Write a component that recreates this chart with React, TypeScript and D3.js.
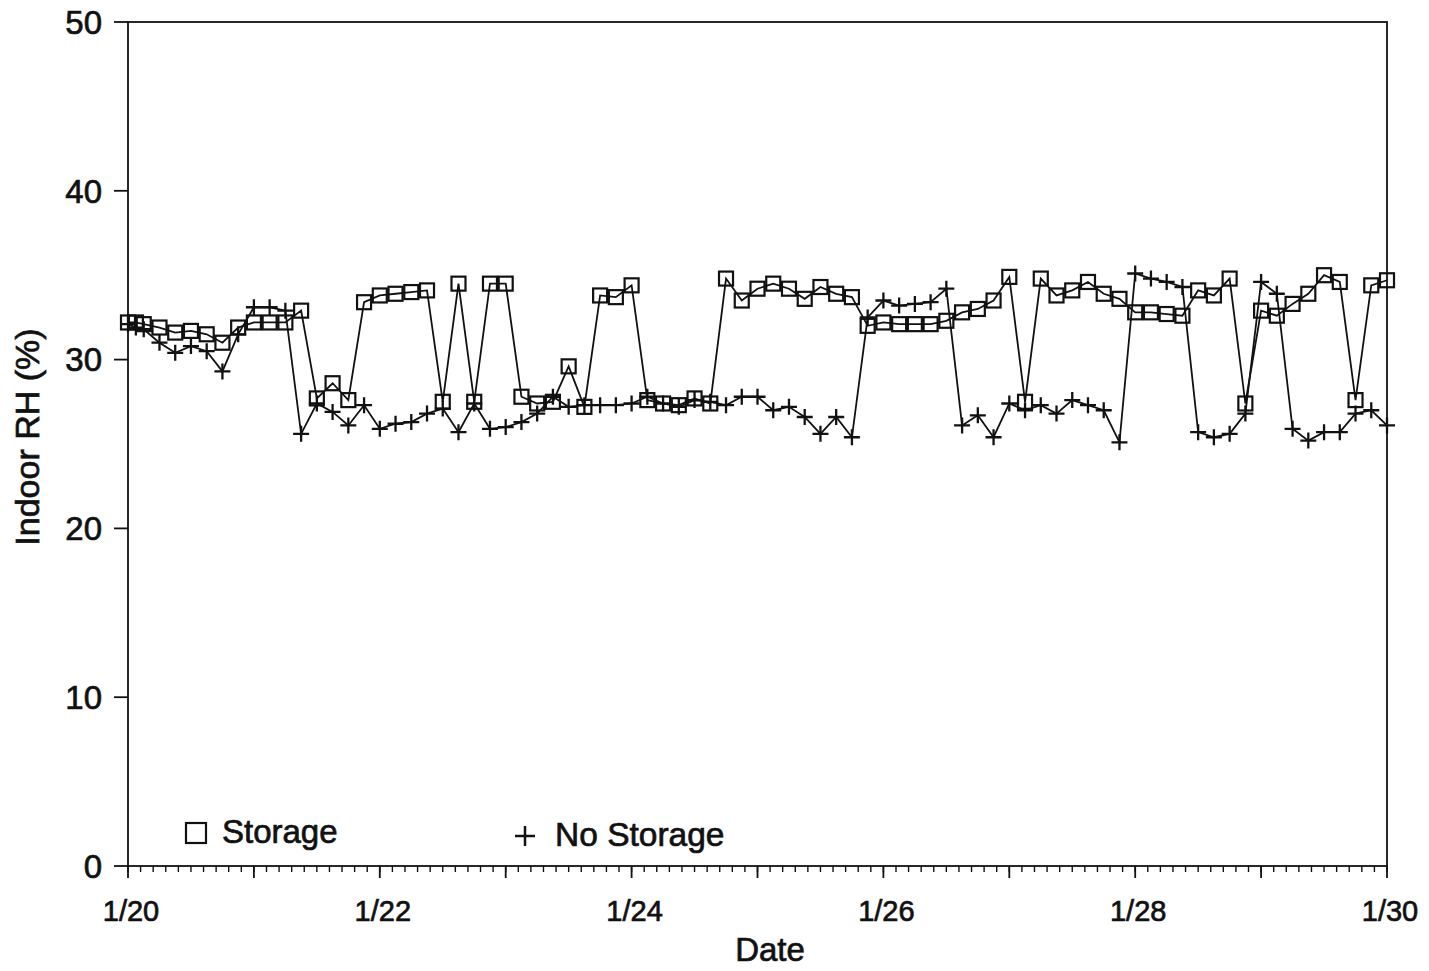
import React from "react";
import * as d3 from "d3";

// hours since 1/20 00:00
const hours = [0, 1.5, 3, 6, 9, 12, 15, 18, 21, 24, 27, 30, 33, 36, 39, 42, 45, 48, 51, 54, 57, 60, 63, 66, 69, 72, 75, 78, 81, 84, 87, 90, 93, 96, 99, 102, 105, 108, 111, 114, 117, 120, 123, 126, 129, 132, 135, 138, 141, 144, 147, 150, 153, 156, 159, 162, 165, 168, 171, 174, 177, 180, 183, 186, 189, 192, 195, 198, 201, 204, 207, 210, 213, 216, 219, 222, 225, 228, 231, 234, 237, 240];

const storage = [32.2, 32.2, 32.1, 31.9, 31.6, 31.7, 31.5, 31.0, 31.9, 32.2, 32.2, 32.2, 32.9, 27.7, 28.6, 27.6, 33.4, 33.8, 33.9, 34.0, 34.1, 27.5, 34.5, 27.5, 34.5, 34.5, 27.8, 27.4, 27.5, 29.6, 27.2, 33.8, 33.7, 34.4, 27.6, 27.4, 27.3, 27.7, 27.4, 34.8, 33.5, 34.2, 34.5, 34.2, 33.6, 34.3, 33.9, 33.7, 32.0, 32.2, 32.1, 32.1, 32.1, 32.3, 32.8, 33.0, 33.5, 34.9, 27.5, 34.8, 33.8, 34.1, 34.6, 33.9, 33.6, 32.8, 32.8, 32.7, 32.6, 34.1, 33.8, 34.8, 27.4, 32.9, 32.6, 33.3, 33.9, 35.0, 34.6, 27.6, 34.4, 34.7];

const noStorage = [32.1, 31.9, 31.8, 31.0, 30.4, 30.8, 30.5, 29.3, 31.5, 33.1, 33.1, 32.9, 25.6, 27.4, 26.9, 26.1, 27.3, 25.9, 26.2, 26.3, 26.8, 27.1, 25.7, 27.4, 25.9, 26.0, 26.3, 26.8, 27.8, 27.2, 27.3, 27.3, 27.3, 27.4, 27.8, 27.4, 27.2, 27.6, 27.5, 27.3, 27.8, 27.8, 27.0, 27.2, 26.6, 25.6, 26.6, 25.4, 32.5, 33.5, 33.2, 33.3, 33.4, 34.2, 26.1, 26.7, 25.4, 27.4, 27.0, 27.3, 26.8, 27.6, 27.3, 27.0, 25.1, 35.1, 34.8, 34.6, 34.3, 25.7, 25.4, 25.6, 26.8, 34.6, 33.9, 25.9, 25.2, 25.7, 25.7, 26.8, 27.0, 26.1];

const dateLabels = ["1/20", "1/22", "1/24", "1/26", "1/28", "1/30"];
const yTicks = [0, 10, 20, 30, 40, 50];

const W = 1429;
const H = 971;
const left = 128, right = 1387, top = 22, bottom = 866;
const FONT = "'Liberation Sans', Arial, Helvetica, sans-serif";
const INK = "#111";

const txt = { fill: INK, stroke: INK, strokeWidth: 0.7 } as const;

export default function App() {
  const x = d3.scaleLinear().domain([0, 240]).range([left, right]);
  const y = d3.scaleLinear().domain([0, 50]).range([bottom, top]);

  const line = d3
    .line<number>()
    .x((_, i) => x(hours[i]))
    .y((d) => y(d));

  const minorTicks = d3.range(0, 241, 2.4);
  const dayTicks = d3.range(0, 241, 24);

  const sq = 14;
  const cr = 8;

  return (
    <svg
      width={W}
      height={H}
      style={{ position: "absolute", left: 0, top: 0, background: "#fff" }}
      fontFamily={FONT}
    >
      <rect x={0} y={0} width={W} height={H} fill="#fff" />
      {/* frame */}
      <rect x={left} y={top} width={right - left} height={bottom - top} fill="none" stroke={INK} strokeWidth={1.8} />

      {/* y ticks & labels */}
      {yTicks.map((t) => (
        <g key={t}>
          <line x1={left - 14} x2={left} y1={y(t)} y2={y(t)} stroke={INK} strokeWidth={1.8} />
          <text x={left - 26} y={y(t)} dy="0.36em" textAnchor="end" fontSize={33} {...txt}>
            {t}
          </text>
        </g>
      ))}

      {/* x ticks */}
      {minorTicks.map((t, i) => (
        <line key={"m" + i} x1={x(t)} x2={x(t)} y1={bottom} y2={bottom + 6} stroke={INK} strokeWidth={1.4} />
      ))}
      {dayTicks.map((t, i) => (
        <line key={"d" + i} x1={x(t)} x2={x(t)} y1={bottom} y2={bottom + 12} stroke={INK} strokeWidth={1.8} />
      ))}
      {dateLabels.map((lab, i) => (
        <text key={lab} x={x(i * 48) + 3} y={bottom + 55} textAnchor="middle" fontSize={29} {...txt}>
          {lab}
        </text>
      ))}

      {/* axis titles */}
      <text x={770} y={961} textAnchor="middle" fontSize={33} {...txt}>
        Date
      </text>
      <text
        transform={`translate(39, ${437}) rotate(-90)`}
        textAnchor="middle"
        fontSize={34}
        {...txt}
      >
        Indoor RH (%)
      </text>

      {/* No Storage series */}
      <path d={line(noStorage) || ""} fill="none" stroke={INK} strokeWidth={1.8} />
      {noStorage.map((v, i) => (
        <path
          key={"n" + i}
          d={`M${x(hours[i]) - cr},${y(v)}H${x(hours[i]) + cr}M${x(hours[i])},${y(v) - cr}V${y(v) + cr}`}
          stroke={INK}
          strokeWidth={2.3}
          fill="none"
        />
      ))}

      {/* Storage series */}
      <path d={line(storage) || ""} fill="none" stroke={INK} strokeWidth={1.8} />
      {storage.map((v, i) => (
        <rect
          key={"s" + i}
          x={x(hours[i]) - sq / 2}
          y={y(v) - sq / 2}
          width={sq}
          height={sq}
          fill="none"
          stroke={INK}
          strokeWidth={2.2}
        />
      ))}

      {/* legend */}
      <rect x={186} y={823} width={20} height={20} fill="none" stroke={INK} strokeWidth={2.2} />
      <text x={222} y={843} fontSize={33} {...txt}>
        Storage
      </text>
      <path d="M515,836H535M525,826V846" stroke={INK} strokeWidth={2.5} fill="none" />
      <text x={555} y={846} fontSize={33.5} {...txt}>
        No Storage
      </text>
    </svg>
  );
}
